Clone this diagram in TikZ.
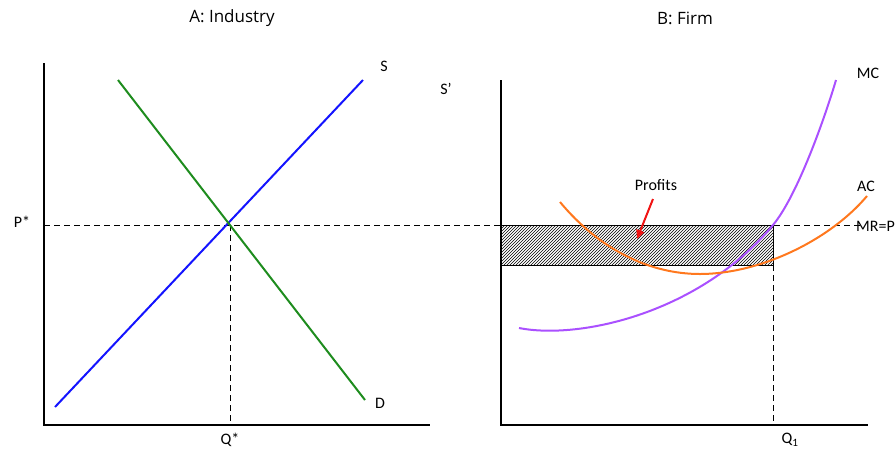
\documentclass[tikz,border=0pt]{standalone}
\usepackage{fontspec}
\setmainfont{Carlito}
\newfontfamily\titlefont{Open Sans}
\usetikzlibrary{patterns,arrows.meta}
\definecolor{supBlue}{RGB}{20, 20, 255}
\definecolor{demGreen}{RGB}{30, 140, 30}
\definecolor{mcPurple}{RGB}{170, 80, 255}
\definecolor{acOrange}{RGB}{255, 120, 30}
\definecolor{arrRed}{RGB}{240, 20, 20}

\begin{document}
\begin{tikzpicture}[x=1pt, y=-1pt,
    axis/.style={line width=2.2pt},
    curve/.style={line width=2pt},
    guide/.style={dash pattern=on 6pt off 4pt, line width=1pt},
    lbl/.style={font=\fontsize{16}{18}\selectfont, inner sep=1pt},
    ttl/.style={font=\titlefont\fontsize{17}{20}\selectfont}]
    \useasboundingbox (0,0) rectangle (896,451);

    % titles
    \node[ttl] (tA) at (232,18) {A: Industry};
    \node[ttl] (tB) at (685,18) {B: Firm};

    % panel A: industry
    \coordinate (aTop) at (44,63);
    \coordinate (aO) at (44,425);
    \coordinate (aEnd) at (430,425);
    \draw[axis] (aTop) -- (aO) -- (aEnd);

    \coordinate (s0) at (55,407);
    \coordinate (s1) at (363,80);
    \coordinate (d0) at (118,80);
    \coordinate (d1) at (365,400);
    \coordinate (eq) at (230,225);
    \coordinate (qStar) at (230,425);
    \coordinate (pEnd) at (860,225);

    \draw[guide] (aO |- eq) -- (pEnd);
    \draw[guide] (eq) -- (qStar);
    \draw[curve, supBlue] (s0) -- (s1);
    \draw[curve, demGreen] (d0) -- (d1);

    \node[lbl] (sL) at (384,66) {S};
    \node[lbl] (sPrime) at (446,89) {S'};
    \node[lbl] (dL) at (380,403) {D};
    \node[lbl] (pL) at (22,222) {P*};
    \node[lbl] (qL) at (230,440) {Q*};

    % panel B: firm
    \coordinate (bTop) at (501,80);
    \coordinate (bO) at (501,425);
    \coordinate (bEnd) at (868,425);
    \coordinate (q1) at (773,425);
    \coordinate (rTop) at (773,225);
    \coordinate (rBot) at (501,265);

    \draw[pattern=north east lines, line width=0.9pt] (rBot) rectangle (rTop);
    \draw[guide] (rTop) -- (q1);
    \draw[axis] (bTop) -- (bO) -- (bEnd);

    \coordinate (mc0) at (519,328);
    \coordinate (mc1) at (836,80);
    \draw[curve, mcPurple] (mc0) .. controls (580,340) and (700,313) .. (rTop)
        .. controls (798,195) and (826,114) .. (mc1);

    \coordinate (ac0) at (560,202);
    \coordinate (acMin) at (700,274);
    \coordinate (ac1) at (867,196);
    \draw[curve, acOrange] (ac0) .. controls (600,250) and (650,274) .. (acMin)
        .. controls (760,274) and (830,240) .. (ac1);

    \node[lbl] (mcL) at (868,73) {MC};
    \node[lbl] (acL) at (866,186) {AC};
    \node[lbl, anchor=west] (mrL) at (855,226) {MR=P};
    \node[lbl] (q1L) at (790,440) {Q\textsubscript{1}};
    \node[lbl] (prof) at (656,185) {Profits};

    \coordinate (arrStart) at (653,199);
    \coordinate (arrTip) at (637,239);
    \draw[-{Triangle[length=9pt,width=8pt]}, arrRed, line width=2pt]
        (arrStart) -- (arrTip);
\end{tikzpicture}
\end{document}
